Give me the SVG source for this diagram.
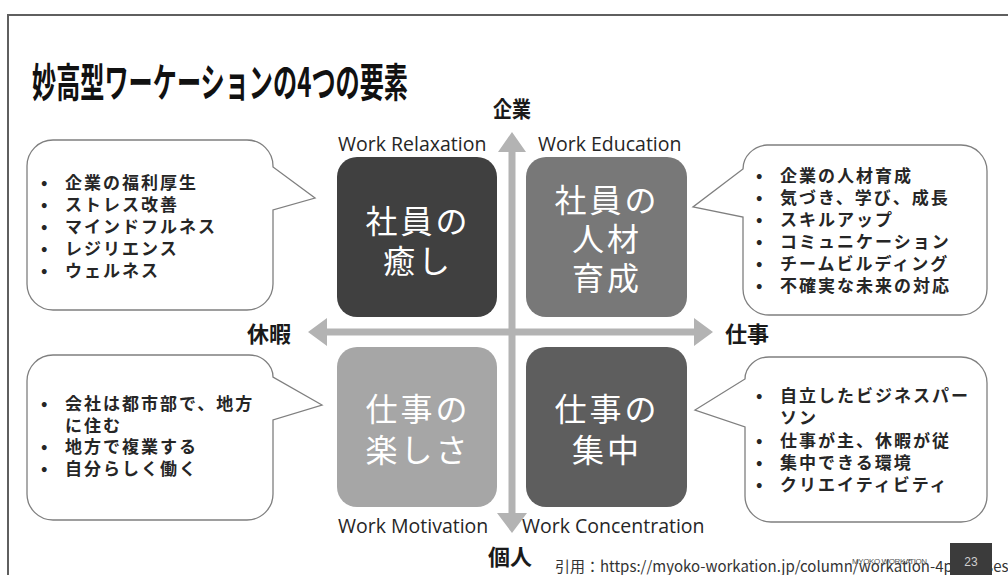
<svg xmlns="http://www.w3.org/2000/svg" width="1008" height="575" viewBox="0 0 1008 575">
  <style>
    .jp { font-family: "Noto Sans CJK JP", "Noto Sans", sans-serif; }
    .box-text { font-family: "Noto Sans CJK JP", sans-serif; font-size: 32px; fill: #ffffff; text-anchor: middle; letter-spacing: 3px; }
    .list { font-family: "Noto Sans CJK JP", sans-serif; font-size: 17px; font-weight: bold; fill: #262626; letter-spacing: 2px; }
    .en { font-family: "Open Sans", "Liberation Sans", sans-serif; font-size: 19.5px; fill: #262626; }
    .axis { font-family: "Noto Sans CJK JP", sans-serif; font-size: 22px; font-weight: bold; fill: #1a1a1a; }
    .bubble { fill: #ffffff; stroke: #7f7f7f; stroke-width: 1.3; }
    .arrow { fill: #b3b3b3; }
  </style>
  <rect x="0" y="0" width="1008" height="575" fill="#ffffff"/>
  <!-- slide frame -->
  <path d="M8,575 V15 H1008" fill="none" stroke="#5f5f5f" stroke-width="2"/>
  <!-- title -->
  <text x="32" y="97" class="jp" font-size="40" font-weight="bold" fill="#111" textLength="376" lengthAdjust="spacingAndGlyphs">妙高型ワーケーションの4つの要素</text>

  <g id="connectors">
    <!-- vertical arrow -->
    <polygon class="arrow" points="512,132 526,152 515.5,152 515.5,513 527,513 512,533 497,513 508.5,513 508.5,152 498,152"/>
    <!-- horizontal arrow -->
    <polygon class="arrow" points="308,332 327,318 327,328.5 694,328.5 694,318 713,332 694,346 694,335.5 327,335.5 327,346"/>
  </g>

  <g id="axis-labels">
    <text x="512" y="117" class="axis" font-size="21" text-anchor="middle" textLength="38" lengthAdjust="spacingAndGlyphs">企業</text>
    <text x="510" y="565" class="axis" text-anchor="middle">個人</text>
    <text x="247" y="342" class="axis">休暇</text>
    <text x="725" y="342" class="axis">仕事</text>
  </g>

  <g id="node-relaxation">
    <text x="338" y="151" class="en">Work Relaxation</text>
    <rect x="337" y="157" width="160" height="160" rx="20" fill="#404040"/>
    <text x="418" y="233" class="box-text">社員の</text>
    <text x="418" y="273" class="box-text">癒し</text>
  </g>
  <g id="node-education">
    <text x="538" y="151" class="en">Work Education</text>
    <rect x="526" y="157" width="161" height="160" rx="20" fill="#787878"/>
    <text x="607" y="212" class="box-text">社員の</text>
    <text x="607" y="251" class="box-text">人材</text>
    <text x="607" y="290" class="box-text">育成</text>
  </g>
  <g id="node-motivation">
    <rect x="337" y="347" width="160" height="160" rx="20" fill="#a6a6a6"/>
    <text x="418" y="421" class="box-text">仕事の</text>
    <text x="418" y="462" class="box-text">楽しさ</text>
    <text x="338" y="533" class="en">Work Motivation</text>
  </g>
  <g id="node-concentration">
    <rect x="526" y="347" width="161" height="160" rx="20" fill="#5e5e5e"/>
    <text x="607" y="421" class="box-text">仕事の</text>
    <text x="607" y="462" class="box-text">集中</text>
    <text x="522" y="533" class="en">Work Concentration</text>
  </g>

  <g id="callout-top-left">
    <path class="bubble" d="M53,140 H247 A26,26 0 0 1 273,166 V167 L315,198 L273,210 V284 A26,26 0 0 1 247,310 H53 A26,26 0 0 1 27,284 V166 A26,26 0 0 1 53,140 Z"/>
    <g class="list">
      <text x="41" y="189">•</text><text x="65" y="189">企業の福利厚生</text>
      <text x="41" y="211">•</text><text x="65" y="211">ストレス改善</text>
      <text x="41" y="233">•</text><text x="65" y="233">マインドフルネス</text>
      <text x="41" y="255">•</text><text x="65" y="255">レジリエンス</text>
      <text x="41" y="277">•</text><text x="65" y="277">ウェルネス</text>
    </g>
  </g>
  <g id="callout-top-right">
    <path class="bubble" d="M767,145 H961 A26,26 0 0 1 987,171 V289 A26,26 0 0 1 961,315 H769 A26,26 0 0 1 743,289 V217 L693,207 L743,169 A26,24 0 0 1 767,145 Z"/>
    <g class="list">
      <text x="756" y="182">•</text><text x="780" y="182">企業の人材育成</text>
      <text x="756" y="204">•</text><text x="780" y="204">気づき、学び、成長</text>
      <text x="756" y="226">•</text><text x="780" y="226">スキルアップ</text>
      <text x="756" y="248">•</text><text x="780" y="248">コミュニケーション</text>
      <text x="756" y="270">•</text><text x="780" y="270">チームビルディング</text>
      <text x="756" y="292">•</text><text x="780" y="292">不確実な未来の対応</text>
    </g>
  </g>
  <g id="callout-bottom-left">
    <path class="bubble" d="M53,355 H249 A24,22 0 0 1 273,377 L322,405 L273,420 V494 A26,26 0 0 1 247,520 H53 A26,26 0 0 1 27,494 V381 A26,26 0 0 1 53,355 Z"/>
    <g class="list">
      <text x="41" y="410">•</text><text x="65" y="410">会社は都市部で、地方</text>
      <text x="65" y="432">に住む</text>
      <text x="41" y="453">•</text><text x="65" y="453">地方で複業する</text>
      <text x="41" y="475">•</text><text x="65" y="475">自分らしく働く</text>
    </g>
  </g>
  <g id="callout-bottom-right">
    <path class="bubble" d="M769,357 H961 A26,26 0 0 1 987,383 V496 A26,26 0 0 1 961,522 H771 A26,26 0 0 1 745,496 V427 L695,410 L745,379 A24,22 0 0 1 769,357 Z"/>
    <g class="list">
      <text x="756" y="402">•</text><text x="780" y="402">自立したビジネスパー</text>
      <text x="780" y="424">ソン</text>
      <text x="756" y="447">•</text><text x="780" y="447">仕事が主、休暇が従</text>
      <text x="756" y="469">•</text><text x="780" y="469">集中できる環境</text>
      <text x="756" y="491">•</text><text x="780" y="491">クリエイティビティ</text>
    </g>
  </g>

  <!-- footer -->
  <text x="555" y="572" class="jp" font-size="15" fill="#333">引用：https://myoko-workation.jp/column/workation-4purposes/</text>
  <text x="852" y="564" font-family="Liberation Sans, sans-serif" font-size="8" fill="#555" letter-spacing="-0.4">MYOKO WORKATION</text>
  <rect x="950" y="543" width="42" height="32" fill="#3b3b3b"/>
  <text x="971" y="566" font-family="Liberation Sans, sans-serif" font-size="12" fill="#cfcfcf" text-anchor="middle">23</text>
</svg>
